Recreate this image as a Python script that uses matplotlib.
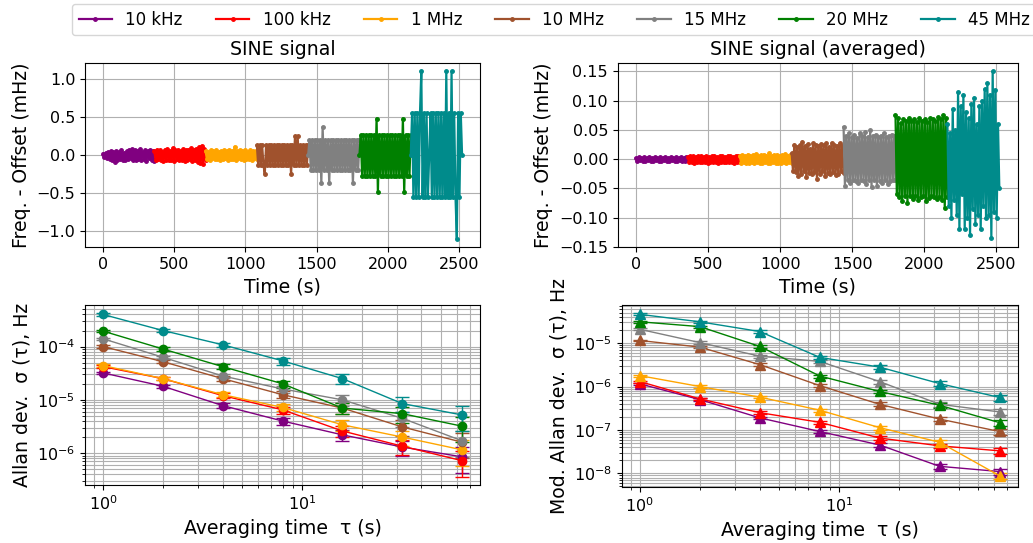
import numpy as np
import matplotlib
matplotlib.use("Agg")
import matplotlib.pyplot as plt

# legend labels and colours of the seven signal frequencies
labels = ['10 kHz', '100 kHz', '1 MHz', '10 MHz', '15 MHz', '20 MHz', '45 MHz']
colors = ['purple', 'red', 'orange', 'sienna', 'gray', 'green', 'darkcyan']

# each frequency was recorded for 360 s, one after another
seg_start = [0, 360, 720, 1080, 1440, 1800, 2160]
seg_len = 360

# frequency - offset (mHz), raw signal
raw_10k = [0.02, -0.03, 0.03, -0.04, 0.04, -0.05, 0.05, -0.06, 0.04, -0.09, 0.05, -0.07, 0.04, -0.05,
           0.06, -0.06, 0.03, -0.07, 0.05, -0.05, 0.07, -0.04, 0.08, -0.06, 0.06, -0.07, 0.05, -0.05,
           0.08, -0.06, 0.04, -0.05, 0.06, -0.08, 0.05, -0.04, 0.07, -0.06, 0.05, -0.08]
raw_100k = [0.05, -0.06, 0.07, -0.05, 0.06, -0.07, 0.04, -0.08, 0.07, -0.06, 0.08, -0.07, 0.05, -0.06,
            0.09, -0.08, 0.06, -0.05, 0.07, -0.07, 0.05, -0.06, 0.08, -0.08, 0.06, -0.07, 0.07, -0.05,
            0.09, -0.08, 0.06, -0.07, 0.08, -0.09, 0.10, -0.10, 0.12, -0.12, 0.08, -0.07]
raw_1M = [0.05, -0.05, 0.04, -0.06, 0.06, -0.04, 0.05, -0.05, 0.07, -0.05, 0.04, -0.06, 0.05, -0.05,
          0.06, -0.04, 0.05, -0.06, 0.07, -0.05, 0.05, -0.05, 0.11, -0.06, 0.05, -0.04, 0.06, -0.05,
          0.05, -0.06, 0.07, -0.05, 0.04, -0.05, 0.06, -0.06, 0.05, -0.04, 0.05, -0.05]
raw_10M = [0.13, -0.13, 0.13, -0.13, 0.13, -0.13, -0.25, 0.13, -0.13, 0.13, -0.13, 0.13, -0.13, 0.13,
           -0.13, 0.13, -0.13, 0.13, -0.13, 0.13, -0.13, 0.13, -0.13, 0.13, -0.13, 0.13, -0.25, 0.13,
           -0.13, 0.25, -0.13, 0.25, -0.13, 0.13, -0.13, 0.13, -0.13, 0.13, -0.13, 0.13]
raw_15M = [0.0, 0.2, -0.2, 0.2, -0.2, 0.2, -0.2, 0.2, -0.2, 0.2, -0.37, 0.37, -0.2, 0.2,
           -0.2, 0.2, -0.37, 0.2, -0.2, 0.2, -0.2, 0.2, -0.2, 0.2, -0.2, 0.2, -0.2, 0.2,
           -0.2, 0.2, -0.2, 0.2, -0.2, 0.2, -0.37, 0.2, -0.2, 0.2, -0.2, 0.2]
raw_20M = [0.0, 0.26, -0.27, 0.26, -0.27, 0.26, -0.27, 0.26, -0.27, 0.26, -0.27, 0.26, -0.27, 0.48,
           -0.49, 0.26, -0.27, 0.26, -0.27, 0.26, -0.27, 0.26, -0.27, 0.26, -0.27, 0.26, -0.27, 0.26,
           -0.27, 0.26, -0.27, 0.26, -0.27, 0.48, -0.49, 0.26, -0.27, 0.26, -0.27, 0.26]
raw_45M = [0.0, 0.55, -0.55, 0.55, -0.55, 0.55, -0.55, 0.55, 1.1, -0.55, 0.55, -0.55, 0.55, -0.55,
           0.0, 0.55, -0.55, 0.55, -0.55, 0.55, -0.55, 0.55, -0.55, 0.55, -0.55, 0.55, -0.55, 1.1,
           -0.55, 0.55, -0.55, 1.1, -0.55, 0.55, -0.55, -1.1, 0.55, -0.55, 0.55, 0.0]

# frequency - offset (mHz), averaged signal
avg_10k = [0.002, -0.003, 0.003, -0.002, 0.002, -0.003, 0.003, -0.003, 0.002, -0.002, 0.003, -0.003, 0.002, -0.003,
           0.003, -0.002, 0.002, -0.003, 0.003, -0.003, 0.002, -0.002, 0.003, -0.003, 0.002, -0.003, 0.003, -0.002,
           0.002, -0.003, 0.003, -0.003, 0.002, -0.002, 0.003, -0.003, 0.002, -0.003, 0.003, -0.002]
avg_100k = [0.004, -0.005, 0.005, -0.004, 0.005, -0.006, 0.004, -0.005, 0.005, -0.004, 0.006, -0.005, 0.004, -0.005,
            0.005, -0.006, 0.004, -0.004, 0.005, -0.005, 0.006, -0.005, 0.004, -0.006, 0.005, -0.004, 0.005, -0.005,
            0.004, -0.005, 0.006, -0.004, 0.005, -0.005, 0.004, -0.006, 0.005, -0.004, 0.005, -0.005]
avg_1M = [0.006, -0.006, 0.007, -0.005, 0.006, -0.007, 0.008, -0.006, 0.006, -0.005, 0.007, -0.006, 0.009, -0.005,
          0.006, -0.007, 0.007, -0.006, 0.008, -0.005, 0.006, -0.006, 0.010, -0.007, 0.006, -0.005, 0.007, -0.006,
          0.008, -0.006, 0.006, -0.007, 0.007, -0.005, 0.009, -0.006, 0.006, -0.005, 0.007, -0.006]
avg_10M = [0.010, -0.020, 0.025, -0.022, 0.020, -0.028, 0.024, -0.025, 0.030, -0.020, 0.022, -0.030, 0.026, -0.024,
           0.018, -0.026, 0.027, -0.022, 0.025, -0.033, 0.022, -0.025, 0.026, -0.020, 0.024, -0.028, 0.027, -0.024,
           0.021, -0.026, 0.028, -0.022, 0.025, -0.027, 0.023, -0.025, 0.027, -0.020, 0.022, -0.024]
avg_15M = [0.055, -0.045, 0.040, -0.035, 0.045, -0.040, 0.038, -0.036, 0.042, -0.038, 0.036, -0.040, 0.044, -0.035,
           0.040, -0.038, 0.046, -0.042, 0.038, -0.036, 0.050, -0.048, 0.040, -0.036, 0.042, -0.045, 0.038, -0.037,
           0.040, -0.040, 0.044, -0.036, 0.038, -0.042, 0.040, -0.038, 0.042, -0.036, 0.040, -0.035]
avg_20M = [0.075, -0.060, 0.070, -0.065, 0.062, -0.072, 0.068, -0.062, 0.065, -0.075, 0.070, -0.063, 0.066, -0.068,
           0.068, -0.062, 0.064, -0.070, 0.070, -0.065, 0.066, -0.062, 0.068, -0.072, 0.064, -0.066, 0.070, -0.063,
           0.068, -0.065, 0.066, -0.068, 0.072, -0.064, 0.068, -0.070, 0.075, -0.083, 0.070, -0.065]
avg_45M = [0.060, -0.080, 0.045, -0.100, 0.085, -0.070, 0.050, -0.095, 0.115, -0.120, 0.090, -0.060, 0.110, -0.120,
           0.080, -0.100, 0.070, -0.130, 0.095, -0.085, 0.105, -0.110, 0.060, -0.095, 0.090, -0.120, 0.100, -0.080,
           0.120, -0.100, 0.130, -0.095, 0.110, -0.135, 0.150, -0.090, 0.118, -0.100, 0.060, -0.050]

raw_series = [raw_10k, raw_100k, raw_1M, raw_10M, raw_15M, raw_20M, raw_45M]
avg_series = [avg_10k, avg_100k, avg_1M, avg_10M, avg_15M, avg_20M, avg_45M]

# averaging time (s)
taus = [1, 2, 4, 8, 16, 32, 64]

# Allan deviation (Hz)
adev_10k = [3.2e-5, 1.8e-5, 7.8e-6, 4.0e-6, 2.2e-6, 1.3e-6, 8.5e-7]
adev_100k = [4.2e-5, 2.5e-5, 1.2e-5, 6.5e-6, 2.6e-6, 1.35e-6, 7.2e-7]
adev_1M = [4.4e-5, 2.5e-5, 1.25e-5, 7.2e-6, 3.4e-6, 2.0e-6, 1.15e-6]
adev_10M = [1.0e-4, 5.2e-5, 2.5e-5, 1.25e-5, 7.0e-6, 3.1e-6, 1.6e-6]
adev_15M = [1.4e-4, 6.3e-5, 2.8e-5, 1.6e-5, 1.0e-5, 4.5e-6, 1.7e-6]
adev_20M = [1.95e-4, 9.0e-5, 4.2e-5, 2.0e-5, 7.0e-6, 5.5e-6, 3.2e-6]
adev_45M = [4.0e-4, 2.0e-4, 1.08e-4, 5.4e-5, 2.5e-5, 8.5e-6, 5.2e-6]
adev_series = [adev_10k, adev_100k, adev_1M, adev_10M, adev_15M, adev_20M, adev_45M]
adev_relerr = [0.05, 0.07, 0.10, 0.15, 0.22, 0.32, 0.50]

# modified Allan deviation (Hz)
mdev_10k = [1.15e-6, 5.0e-7, 1.9e-7, 9.2e-8, 4.5e-8, 1.45e-8, 1.1e-8]
mdev_100k = [1.3e-6, 5.2e-7, 2.5e-7, 1.5e-7, 6.5e-8, 4.3e-8, 3.3e-8]
mdev_1M = [1.78e-6, 1.0e-6, 5.7e-7, 2.85e-7, 1.13e-7, 5.2e-8, 8.8e-9]
mdev_10M = [1.15e-5, 8.1e-6, 3.2e-6, 1.05e-6, 3.9e-7, 1.78e-7, 9.2e-8]
mdev_15M = [2.08e-5, 1.03e-5, 5.0e-6, 3.8e-6, 1.3e-6, 3.9e-7, 2.6e-7]
mdev_20M = [3.1e-5, 2.4e-5, 8.4e-6, 1.75e-6, 7.7e-7, 3.7e-7, 1.47e-7]
mdev_45M = [4.6e-5, 3.1e-5, 1.85e-5, 4.7e-6, 2.8e-6, 1.17e-6, 5.6e-7]
mdev_series = [mdev_10k, mdev_100k, mdev_1M, mdev_10M, mdev_15M, mdev_20M, mdev_45M]
mdev_relerr = [0.05, 0.06, 0.07, 0.08, 0.10, 0.12, 0.15]

LABEL_FS = 13.6
TICK_FS = 11.5

fig = plt.figure(figsize=(10.33, 5.43), dpi=100)
ax_raw = fig.add_axes([0.0823, 0.545, 0.3824, 0.339])
ax_avg = fig.add_axes([0.598, 0.545, 0.387, 0.339])
ax_adev = fig.add_axes([0.0823, 0.107, 0.3824, 0.331])
ax_mdev = fig.add_axes([0.602, 0.103, 0.383, 0.335])

handles = []
for i in range(len(labels)):
    t = seg_start[i] + np.linspace(0, seg_len, len(raw_series[i]))
    h, = ax_raw.plot(t, raw_series[i], '.-', color=colors[i], ms=5, lw=1.6, label=labels[i])
    handles.append(h)
    t = seg_start[i] + np.linspace(0, seg_len, len(avg_series[i]))
    ax_avg.plot(t, avg_series[i], '.-', color=colors[i], ms=5, lw=1.6)

    a = np.array(adev_series[i])
    ax_adev.errorbar(taus, a, yerr=a * np.array(adev_relerr), fmt='o-', color=colors[i],
                     ms=6, lw=1, capsize=5)
    m = np.array(mdev_series[i])
    ax_mdev.errorbar(taus, m, yerr=m * np.array(mdev_relerr), fmt='^-', color=colors[i],
                     ms=6.5, lw=1, capsize=5)

ax_raw.set_title('SINE signal', fontsize=LABEL_FS)
ax_avg.set_title('SINE signal (averaged)', fontsize=LABEL_FS)
for ax in (ax_raw, ax_avg):
    ax.set_xlabel('Time (s)', fontsize=LABEL_FS)
    ax.set_ylabel('Freq. - Offset (mHz)', fontsize=LABEL_FS)
    ax.grid(True)
ax_raw.set_yticks([-1.0, -0.5, 0.0, 0.5, 1.0])
avg_ticks = [-0.15, -0.10, -0.05, 0.0, 0.05, 0.10, 0.15]
ax_avg.set_yticks(avg_ticks)
ax_avg.set_yticklabels(['\u2212%.2f' % -v if v < 0 else '%.2f' % v for v in avg_ticks])

for ax in (ax_adev, ax_mdev):
    ax.set_xscale('log')
    ax.set_yscale('log')
    ax.grid(True, which='both')
    ax.set_xlabel('Averaging time  \u03c4 (s)', fontsize=LABEL_FS)
ax_adev.set_ylabel('Allan dev.  \u03c3 (\u03c4), Hz', fontsize=LABEL_FS)
ax_mdev.set_ylabel('Mod. Allan dev.  \u03c3 (\u03c4), Hz', fontsize=LABEL_FS)

for ax in (ax_raw, ax_avg, ax_adev, ax_mdev):
    ax.tick_params(labelsize=TICK_FS)

fig.legend(handles=handles, loc='upper left', bbox_to_anchor=(72 / 1033, 1 - 4 / 543),
           borderaxespad=0, ncol=7, fontsize=12)

fig.savefig('out.png', dpi=100)
